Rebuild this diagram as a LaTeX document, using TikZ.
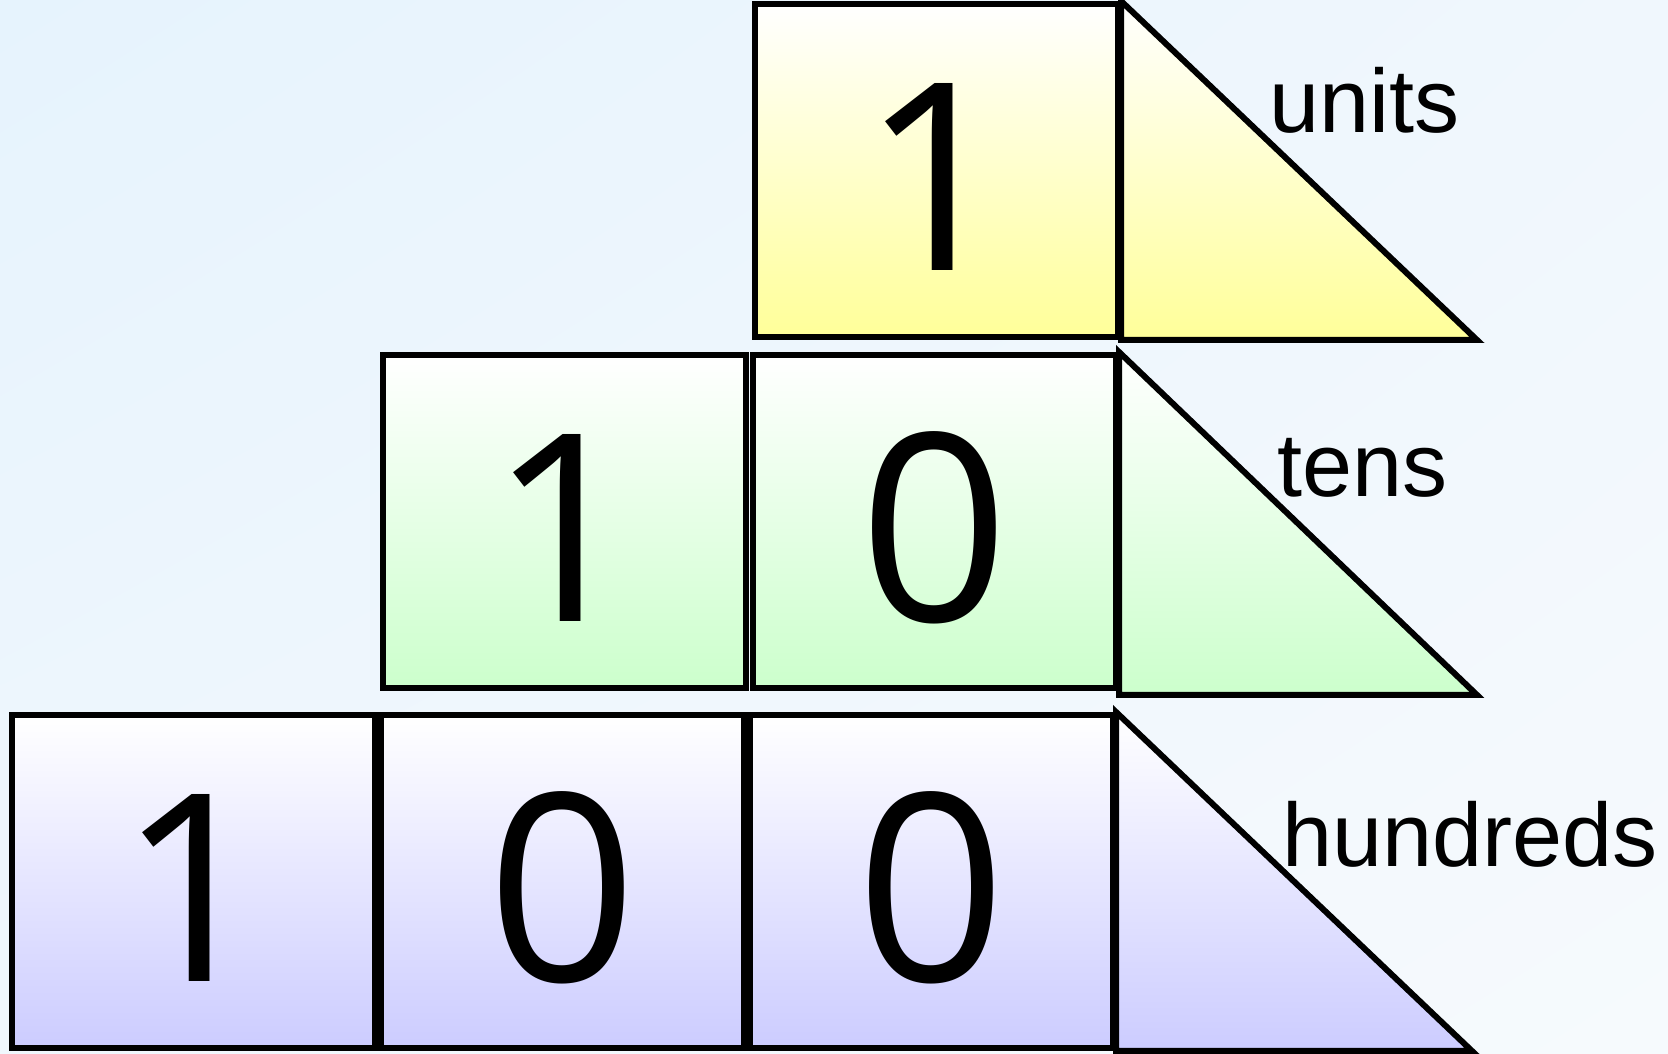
\documentclass[tikz,border=0pt]{standalone}
\usepackage{fontspec}
\setmainfont{Liberation Sans}
\newfontfamily\digitfont{Open Sans}
\usetikzlibrary{shadings}
\definecolor{bgA}{HTML}{E6F3FD}
\definecolor{bgB}{HTML}{F6FAFD}
\definecolor{bgM}{HTML}{F0F7FD}
\definecolor{yel}{HTML}{FFFF99}
\definecolor{grn}{HTML}{CCFFCC}
\definecolor{blu}{HTML}{CCCCFF}
\tikzset{
  cell/.style={draw=black, line width=6pt, inner sep=0pt, anchor=south west,
    minimum width=363pt, minimum height=333pt},
  digit/.style={inner sep=0pt, font=\digitfont\fontsize{262}{262}\selectfont},
  ycell/.style={cell, top color=white, bottom color=yel},
  gcell/.style={cell, top color=white, bottom color=grn},
  bcell/.style={cell, top color=white, bottom color=blu},
  tri/.style={draw=black, line width=6pt, line join=miter},
  lab/.style={anchor=base west, inner sep=0pt, font=\fontsize{90}{90}\selectfont}
}
\begin{document}
\begin{tikzpicture}[x=1pt,y=1pt]
\useasboundingbox (0,0) rectangle (1668,1054);
\shade[upper left=bgA, upper right=bgM, lower left=bgM, lower right=bgB] (0,0) rectangle (1668,1054);
% units row
\node[ycell] (u1) at (752,714) {};
\node[digit] (u1d) at ([yshift=-6pt]u1.center) {1};
\coordinate (ut) at (1477,714);
\shadedraw[tri, top color=white, bottom color=yel] (u1.north east) -- (ut) -- (u1.south east) -- cycle;
\node[lab] (ul) at (1269,921) {units};
% tens row
\node[gcell] (t1) at (380,363) {};
\node[digit] (t1d) at ([yshift=-6pt]t1.center) {1};
\node[gcell] (t0) at (750,363) {};
\node[digit] (t0d) at ([yshift=-6pt]t0.center) {0};
\coordinate (tt) at (1477,359);
\shadedraw[tri, top color=white, bottom color=grn] (t0.north east) -- (tt) -- (t0.south east |- tt) -- cycle;
\node[lab] (tl) at (1277,557) {tens};
% hundreds row
\node[bcell] (h1) at (8.5,3) {};
\node[digit] (h1d) at ([yshift=-6pt]h1.center) {1};
\node[bcell] (h2) at (378,3) {};
\node[digit] (h2d) at ([yshift=-6pt]h2.center) {0};
\node[bcell] (h3) at (747,3) {};
\node[digit] (h3d) at ([yshift=-6pt]h3.center) {0};
\coordinate (ht) at (1472,3);
\shadedraw[tri, top color=white, bottom color=blu] (h3.north east) -- (ht) -- (h3.south east) -- cycle;
\node[lab] (hl) at (1282,187) {hundreds};
\end{tikzpicture}
\end{document}
